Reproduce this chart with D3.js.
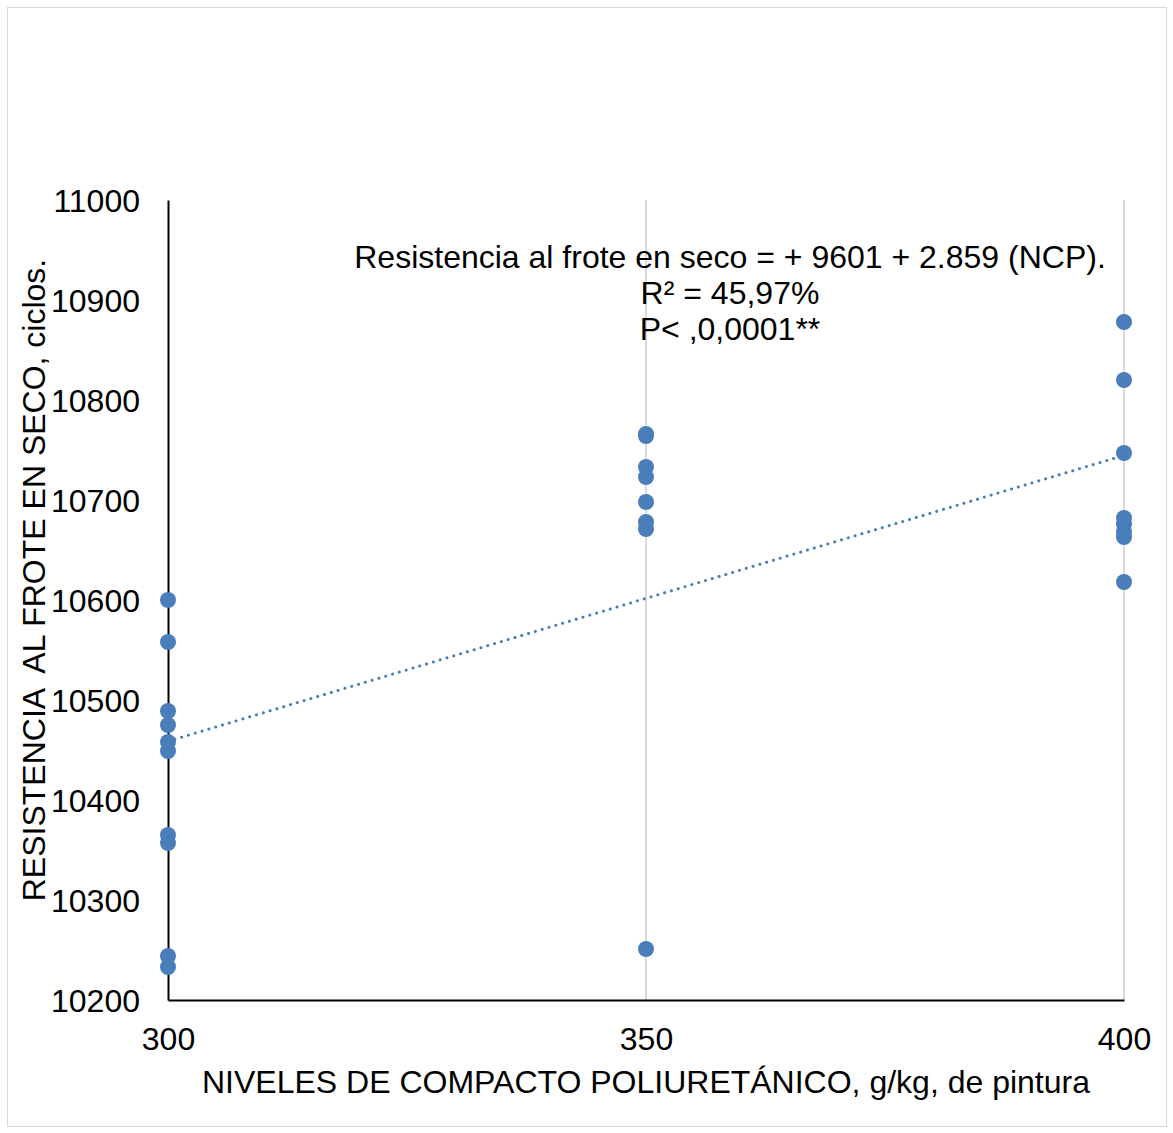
<!DOCTYPE html>
<html>
<head>
<meta charset="utf-8">
<script src="https://cdn.jsdelivr.net/npm/d3@7"></script>
<style>
  html, body { margin: 0; padding: 0; background: #ffffff; }
  svg text { font-family: "Liberation Sans", Arial, sans-serif; fill: #000; }
</style>
</head>
<body>
<svg id="chart" width="1173" height="1133"></svg>
<script>
// Dry rub resistance (cycles) by polyurethane compound level
const levels = [300, 350, 400];
const resist300 = [10600, 10558, 10489, 10475, 10458, 10449, 10365, 10357, 10244, 10233];
const resist350 = [10766, 10764, 10733, 10723, 10698, 10678, 10671, 10251];
const resist400 = [10878, 10820, 10747, 10682, 10676, 10668, 10663, 10618];
const yTicks = [10200, 10300, 10400, 10500, 10600, 10700, 10800, 10900, 11000];
const xTicks = [300, 350, 400];
const fitIntercept = 9601;
const fitSlope = 2.859;
const annotation = [
  "Resistencia al frote en seco = + 9601 + 2.859 (NCP).",
  "R² = 45,97%",
  "P< ,0,0001**"
];
const xTitle = "NIVELES DE COMPACTO POLIURETÁNICO, g/kg, de pintura";
const yTitle = "RESISTENCIA  AL FROTE EN SECO, ciclos.";

const points = [];
[resist300, resist350, resist400].forEach((vals, i) => {
  vals.forEach(v => points.push({ x: levels[i], y: v }));
});

const svg = d3.select("#chart");
const W = 1173, H = 1133;
const plot = { left: 168, right: 1124, top: 200, bottom: 1000 };
const dotColor = "#4a7ebb";
const fs = 32;

// outer chart border
svg.append("rect")
  .attr("x", 7.5).attr("y", 7.5)
  .attr("width", W - 14).attr("height", H - 14)
  .attr("fill", "#fff").attr("stroke", "#d9d9d9").attr("stroke-width", 1);

const x = d3.scaleLinear().domain([300, 400]).range([plot.left, plot.right]);
const y = d3.scaleLinear().domain([10200, 11000]).range([plot.bottom, plot.top]);

// vertical gridlines
svg.append("g")
  .selectAll("line")
  .data(xTicks.filter(t => t !== 300))
  .join("line")
  .attr("x1", d => x(d)).attr("x2", d => x(d))
  .attr("y1", plot.top).attr("y2", plot.bottom)
  .attr("stroke", "#d9d9d9").attr("stroke-width", 2);

// x axis
const xAxis = d3.axisBottom(x).tickValues(xTicks).tickSize(0).tickPadding(0).tickFormat(d3.format("d"));
const gx = svg.append("g").attr("transform", `translate(0,${plot.bottom})`).call(xAxis);
gx.select(".domain").attr("stroke", "#000").attr("stroke-width", 2);
gx.selectAll("text")
  .attr("y", 50).attr("dy", null)
  .attr("font-size", fs).style("font-family", "Liberation Sans, Arial, sans-serif");

// y axis
const yAxis = d3.axisLeft(y).tickValues(yTicks).tickSize(0).tickPadding(28).tickFormat(d3.format("d"));
const gy = svg.append("g").attr("transform", `translate(${plot.left},0)`).call(yAxis);
gy.select(".domain").attr("stroke", "#000").attr("stroke-width", 2);
gy.selectAll("text")
  .attr("dy", "0.36em")
  .attr("font-size", fs).style("font-family", "Liberation Sans, Arial, sans-serif");

// linear fit from the stated equation
const fitLine = d3.line().x(d => x(d)).y(d => y(fitIntercept + fitSlope * d));
svg.append("path")
  .datum([300, 400])
  .attr("d", fitLine)
  .attr("fill", "none")
  .attr("stroke", dotColor)
  .attr("stroke-width", 3)
  .attr("stroke-linecap", "round")
  .attr("stroke-dasharray", "0.1 7");

// observations
svg.append("g")
  .selectAll("circle")
  .data(points)
  .join("circle")
  .attr("cx", d => x(d.x))
  .attr("cy", d => y(d.y))
  .attr("r", 8)
  .attr("fill", dotColor);

// equation annotation
svg.append("g")
  .selectAll("text")
  .data(annotation)
  .join("text")
  .attr("x", 730)
  .attr("y", (d, i) => 268 + i * 36)
  .attr("text-anchor", "middle")
  .attr("font-size", fs)
  .text(d => d);

// axis titles
svg.append("text")
  .attr("x", 646)
  .attr("y", 1093)
  .attr("text-anchor", "middle")
  .attr("font-size", fs)
  .text(xTitle);

svg.append("text")
  .attr("transform", `translate(45,580) rotate(-90)`)
  .attr("text-anchor", "middle")
  .attr("font-size", fs)
  .style("white-space", "pre")
  .text(yTitle);
</script>
</body>
</html>
